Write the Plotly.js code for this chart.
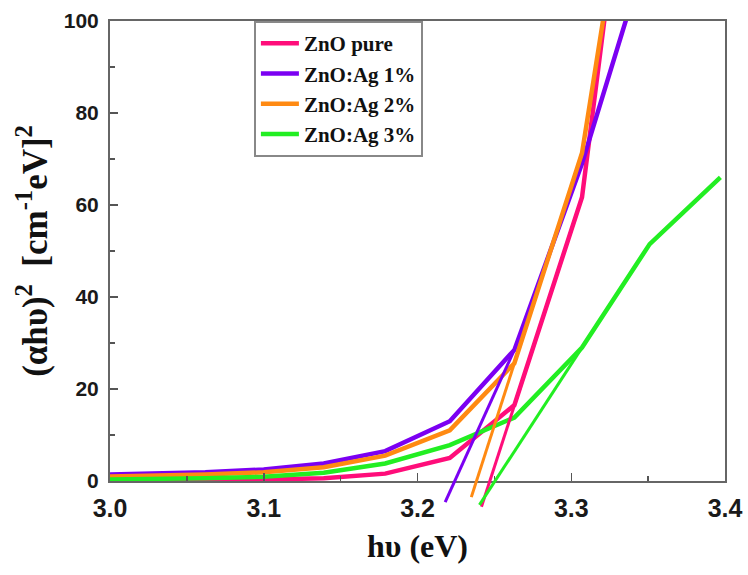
<!DOCTYPE html>
<html>
<head>
<meta charset="utf-8">
<script src="https://cdn.plot.ly/plotly-3.0.1.min.js"></script>
<style>html,body{margin:0;padding:0;background:#fff;}#chart{width:748px;height:575px;}</style>
</head>
<body>
<div id="chart"></div>
<script>
// photon energy (eV)
const energy = [2.988, 3.024, 3.062, 3.100, 3.139, 3.179, 3.221, 3.263, 3.307, 3.351, 3.397];
// (alpha h nu)^2 values
const znoPure = [0.1, 0.15, 0.2, 0.3, 0.6, 1.6, 5.0, 16.5, 61.7, 175, 300];
const znoAg1 = [1.3, 1.5, 1.9, 2.5, 3.8, 6.5, 13.0, 28.5, 69, 117, 170];
const znoAg2 = [0.9, 1.1, 1.4, 1.9, 3.0, 5.5, 11.0, 25.6, 71.3, 164, 250];
const znoAg3 = [0.3, 0.4, 0.6, 0.9, 1.8, 3.8, 7.8, 13.8, 29.0, 51.5, 66];
// linear extrapolation (Tauc) lines
const tanPureX = [3.2416, 3.307], tanPureY = [-5.6, 61.7];
const tanAg1X = [3.218, 3.263],  tanAg1Y = [-4.6, 28.5];
const tanAg2X = [3.235, 3.307],  tanAg2Y = [-3.5, 71.3];
const tanAg3X = [3.2403, 3.307], tanAg3Y = [-5.2, 29.0];

const names = ['ZnO pure', 'ZnO:Ag 1%', 'ZnO:Ag 2%', 'ZnO:Ag 3%'];
const colors = ['#ff0d7a', '#7b00f2', '#ff8a12', '#22ee22'];
const series = [znoPure, znoAg1, znoAg2, znoAg3];
const tans = [[tanPureX, tanPureY], [tanAg1X, tanAg1Y], [tanAg2X, tanAg2Y], [tanAg3X, tanAg3Y]];

const traces = [];
series.forEach((ys, i) => {
  traces.push({x: energy, y: ys, type: 'scatter', mode: 'lines', name: names[i],
    line: {color: colors[i], width: 4.5}, xaxis: 'x', yaxis: 'y'});
});
tans.forEach((t, i) => {
  traces.push({x: t[0], y: t[1], type: 'scatter', mode: 'lines', showlegend: false,
    line: {color: colors[i], width: 3}, xaxis: 'x2', yaxis: 'y2'});
});

const W = 748, H = 575, mT = 21, mB = 60, mL = 110, mR = 23;
const plotH = H - mT - mB;
const axisY = 481;
const domBottom = (H - mB - axisY) / plotH;
const pxPerUnit = (axisY - mT) / 100;
const y2min = 100 - plotH / pxPerUnit;

const tickFontX = {family: 'Liberation Sans, Arial, sans-serif', size: 25, color: '#1a1a1a', weight: 'bold'};
const tickFontY = {family: 'Liberation Sans, Arial, sans-serif', size: 21, color: '#1a1a1a', weight: 'bold'};
const titleFontX = {family: 'Liberation Serif, Times New Roman, serif', size: 32, color: '#111', weight: 'bold'};
const titleFontY = {family: 'Liberation Serif, Times New Roman, serif', size: 35, color: '#111', weight: 'bold'};

const layout = {
  width: W, height: H,
  margin: {l: mL, r: mR, t: mT, b: mB},
  paper_bgcolor: '#fff', plot_bgcolor: 'rgba(0,0,0,0)',
  showlegend: true,
  legend: {x: 0.234, y: 1.0, xanchor: 'left', yanchor: 'top', bgcolor: '#fff',
    bordercolor: '#888', borderwidth: 2, itemwidth: 38,
    font: {family: 'Liberation Serif, Times New Roman, serif', size: 21, color: '#111', weight: 'bold'},
    tracegroupgap: 0},
  xaxis: {range: [3.0, 3.4], domain: [0, 1], anchor: 'y', dtick: 0.1, tick0: 3.0, tickformat: '.1f',
    ticks: 'inside', ticklen: 8, tickwidth: 1.5, tickcolor: '#555',
    minor: {dtick: 0.05, ticks: 'inside', ticklen: 5, tickcolor: '#555'},
    showline: true, linecolor: '#666', linewidth: 2, mirror: true,
    showgrid: false, zeroline: false, tickfont: tickFontX, ticklabelstandoff: 4,
    title: {text: 'hυ (eV)', font: titleFontX, standoff: 14}},
  yaxis: {range: [0, 100], domain: [domBottom, 1], anchor: 'x', dtick: 20,
    ticks: 'inside', ticklen: 8, tickwidth: 1.5, tickcolor: '#555',
    minor: {dtick: 10, ticks: 'inside', ticklen: 5, tickcolor: '#555'},
    showline: true, linecolor: '#666', linewidth: 2, mirror: true,
    showgrid: false, zeroline: false, tickfont: tickFontY, ticklabelstandoff: 5,
    title: {text: '(αhυ)<sup>2</sup>  [cm<sup>-1</sup>eV]<sup>2</sup>', font: titleFontY, standoff: 6}},
  xaxis2: {range: [3.0, 3.4], domain: [0, 1], anchor: 'y2', visible: false},
  yaxis2: {range: [y2min, 100], domain: [0, 1], anchor: 'x2', visible: false}
};

Plotly.newPlot('chart', traces, layout, {staticPlot: true, displayModeBar: false});
</script>
</body>
</html>
